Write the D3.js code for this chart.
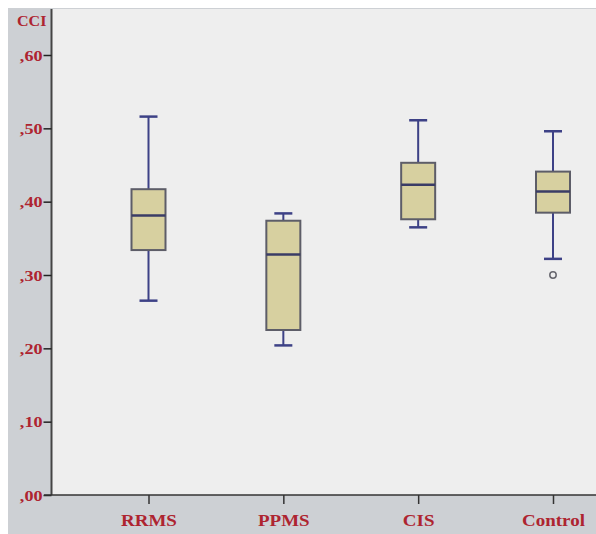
<!DOCTYPE html>
<html><head><meta charset="utf-8">
<script src="https://cdn.jsdelivr.net/npm/d3@7"></script>
<style>html,body{margin:0;padding:0;background:#fff;}svg{display:block;}</style>
</head><body>
<script>
const categories = ["RRMS", "PPMS", "CIS", "Control"];
const whiskerLow  = [0.265, 0.204, 0.365, 0.322];
const q1          = [0.334, 0.225, 0.376, 0.385];
const median      = [0.381, 0.328, 0.423, 0.414];
const q3          = [0.417, 0.374, 0.453, 0.441];
const whiskerHigh = [0.516, 0.384, 0.511, 0.496];
const outliers    = [[], [], [], [0.300]];
const yTicks = [0, 0.1, 0.2, 0.3, 0.4, 0.5, 0.6];
const yTitle = "CCI";

const W = 596, H = 534;
const svg = d3.select("body").append("svg").attr("width", W).attr("height", H);
svg.append("rect").attr("x", 0).attr("y", 0).attr("width", W).attr("height", H).attr("fill", "#ffffff");
svg.append("rect").attr("x", 8).attr("y", 8).attr("width", W - 8).attr("height", H - 8).attr("fill", "#cdd0d4");

const plotL = 52, plotT = 9, plotR = W, plotB = 495;
svg.append("rect").attr("x", plotL).attr("y", plotT).attr("width", plotR - plotL).attr("height", plotB - plotT).attr("fill", "#eeeeee");

const y = d3.scaleLinear().domain([0, 0.6]).range([495, 55]);
const x = d3.scalePoint().domain(categories).range([148.5, 553]);

const textColor = "#ae2430";
const font = "'Liberation Serif', 'DejaVu Serif', serif";

// Y axis
const yAxis = d3.axisLeft(y).tickValues(yTicks).tickSize(8).tickFormat(d => "," + d3.format(".2f")(d).split(".")[1]);
const gy = svg.append("g").attr("transform", `translate(${plotL - 0.5},0)`).call(yAxis);
gy.select(".domain").attr("stroke", "#444").attr("stroke-width", 2).attr("d", `M0,${plotT}V${plotB}`);
gy.selectAll(".tick line").attr("stroke", "#222").attr("stroke-width", 1.5);
gy.selectAll(".tick text").attr("fill", textColor).attr("font-family", font).attr("font-weight", "bold")
  .attr("font-size", 14.5).attr("dy", "0.35em")
  .attr("transform", "scale(1.25,1)").attr("x", -9 / 1.25);

// X axis
const xAxis = d3.axisBottom(x).tickSize(9).tickSizeOuter(0);
const gx = svg.append("g").attr("transform", `translate(0,${plotB})`).call(xAxis);
gx.select(".domain").attr("stroke", "#333").attr("stroke-width", 1.5).attr("d", `M${plotL - 8},0H${plotR}`);
gx.selectAll(".tick line").attr("stroke", "#333").attr("stroke-width", 1.5);
gx.selectAll(".tick text").attr("fill", textColor).attr("font-family", font).attr("font-weight", "bold")
  .attr("font-size", 16.5).attr("y", 0).attr("dy", 0)
  .attr("transform", "translate(0,31) scale(1.15,1)");

// Y title
svg.append("text").attr("x", 0).attr("y", 0)
  .attr("transform", "translate(17,26) scale(1.15,1)")
  .attr("fill", textColor).attr("font-family", font).attr("font-weight", "bold").attr("font-size", 14)
  .text(yTitle);

// Boxes
const boxHalf = 17, capHalf = 9;
const whiskerColor = "#3d4186";
categories.forEach((c, i) => {
  const cx = x(c);
  const g = svg.append("g");
  g.append("line").attr("x1", cx).attr("x2", cx).attr("y1", y(whiskerHigh[i])).attr("y2", y(q3[i]))
    .attr("stroke", whiskerColor).attr("stroke-width", 2);
  g.append("line").attr("x1", cx).attr("x2", cx).attr("y1", y(q1[i])).attr("y2", y(whiskerLow[i]))
    .attr("stroke", whiskerColor).attr("stroke-width", 2);
  g.append("line").attr("x1", cx - capHalf).attr("x2", cx + capHalf).attr("y1", y(whiskerHigh[i])).attr("y2", y(whiskerHigh[i]))
    .attr("stroke", whiskerColor).attr("stroke-width", 2.5);
  g.append("line").attr("x1", cx - capHalf).attr("x2", cx + capHalf).attr("y1", y(whiskerLow[i])).attr("y2", y(whiskerLow[i]))
    .attr("stroke", whiskerColor).attr("stroke-width", 2.5);
  g.append("rect").attr("x", cx - boxHalf).attr("width", 2 * boxHalf)
    .attr("y", y(q3[i])).attr("height", y(q1[i]) - y(q3[i]))
    .attr("fill", "#d7d0a0").attr("stroke", "#5d5d68").attr("stroke-width", 2);
  g.append("line").attr("x1", cx - boxHalf).attr("x2", cx + boxHalf).attr("y1", y(median[i])).attr("y2", y(median[i]))
    .attr("stroke", "#3a3c66").attr("stroke-width", 2.5);
  outliers[i].forEach(v => {
    g.append("circle").attr("cx", cx).attr("cy", y(v)).attr("r", 3.2)
      .attr("fill", "none").attr("stroke", "#66666e").attr("stroke-width", 1.5);
  });
});
</script>
</body></html>
